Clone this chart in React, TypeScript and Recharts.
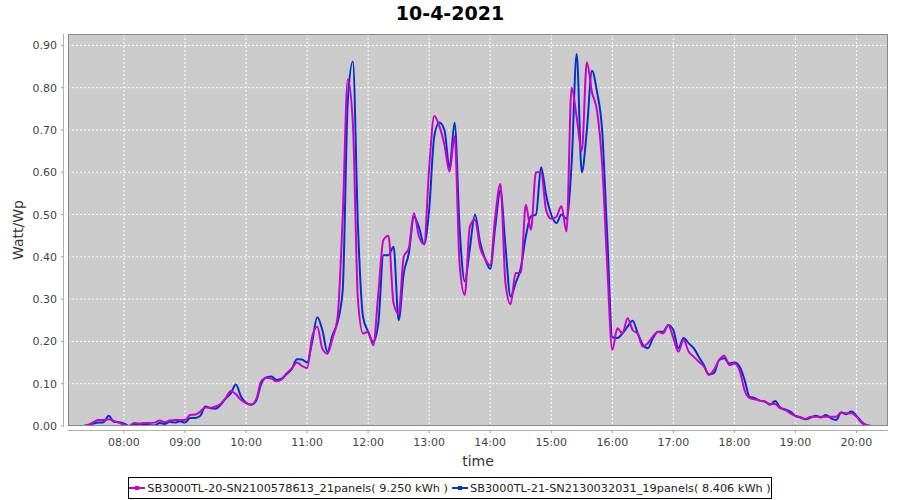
import React from 'react';
import { LineChart, Line, XAxis, YAxis, CartesianGrid } from 'recharts';

const times = [
  '07:20', '07:25', '07:30', '07:35', '07:40', '07:45', '07:50', '07:55',
  '08:00', '08:05', '08:10', '08:15', '08:20', '08:25', '08:30', '08:35', '08:40', '08:45', '08:50', '08:55',
  '09:00', '09:05', '09:10', '09:15', '09:20', '09:25', '09:30', '09:35', '09:40', '09:45', '09:50', '09:55',
  '10:00', '10:05', '10:10', '10:15', '10:20', '10:25', '10:30', '10:35', '10:40', '10:45', '10:50', '10:55',
  '11:00', '11:05', '11:10', '11:15', '11:20', '11:25', '11:30', '11:35', '11:40', '11:45', '11:50', '11:55',
  '12:00', '12:05', '12:10', '12:15', '12:20', '12:25', '12:30', '12:35', '12:40', '12:45', '12:50', '12:55',
  '13:00', '13:05', '13:10', '13:15', '13:20', '13:25', '13:30', '13:35', '13:40', '13:45', '13:50', '13:55',
  '14:00', '14:05', '14:10', '14:15', '14:20', '14:25', '14:30', '14:35', '14:40', '14:45', '14:50', '14:55',
  '15:00', '15:05', '15:10', '15:15', '15:20', '15:25', '15:30', '15:35', '15:40', '15:45', '15:50', '15:55',
  '16:00', '16:05', '16:10', '16:15', '16:20', '16:25', '16:30', '16:35', '16:40', '16:45', '16:50', '16:55',
  '17:00', '17:05', '17:10', '17:15', '17:20', '17:25', '17:30', '17:35', '17:40', '17:45', '17:50', '17:55',
  '18:00', '18:05', '18:10', '18:15', '18:20', '18:25', '18:30', '18:35', '18:40', '18:45', '18:50', '18:55',
  '19:00', '19:05', '19:10', '19:15', '19:20', '19:25', '19:30', '19:35', '19:40', '19:45', '19:50', '19:55',
  '20:00', '20:05', '20:10', '20:15',
];

// SB3000TL-20 (magenta)
const sb20 = [
  0.000, 0.003, 0.009, 0.014, 0.014, 0.016, 0.012, 0.008,
  0.003, 0.000, 0.007, 0.006, 0.007, 0.007, 0.008, 0.013, 0.009, 0.013, 0.014, 0.014,
  0.014, 0.026, 0.027, 0.034, 0.044, 0.043, 0.046, 0.052, 0.066, 0.083, 0.075, 0.062,
  0.054, 0.051, 0.063, 0.106, 0.114, 0.112, 0.106, 0.110, 0.125, 0.136, 0.150, 0.142,
  0.137, 0.211, 0.235, 0.183, 0.171, 0.207, 0.258, 0.495, 0.820, 0.716, 0.298, 0.219,
  0.223, 0.191, 0.313, 0.440, 0.450, 0.290, 0.265, 0.400, 0.420, 0.503, 0.448, 0.430,
  0.610, 0.733, 0.709, 0.665, 0.602, 0.685, 0.380, 0.310, 0.472, 0.488, 0.423, 0.395,
  0.380, 0.496, 0.572, 0.338, 0.288, 0.362, 0.362, 0.523, 0.464, 0.600, 0.600, 0.510,
  0.490, 0.495, 0.520, 0.460, 0.800, 0.730, 0.650, 0.860, 0.790, 0.745, 0.620, 0.380,
  0.180, 0.231, 0.219, 0.255, 0.227, 0.218, 0.188, 0.196, 0.212, 0.223, 0.219, 0.239,
  0.208, 0.176, 0.204, 0.176, 0.164, 0.152, 0.141, 0.121, 0.133, 0.156, 0.166, 0.144,
  0.148, 0.133, 0.085, 0.066, 0.063, 0.060, 0.058, 0.052, 0.052, 0.042, 0.038, 0.030,
  0.024, 0.021, 0.017, 0.022, 0.022, 0.022, 0.022, 0.022, 0.022, 0.032, 0.030, 0.030,
  0.022, 0.008, 0.002, 0.000,
];

// SB3000TL-21 (blue)
const sb21 = [
  0.000, 0.002, 0.006, 0.008, 0.009, 0.024, 0.010, 0.009,
  0.006, 0.000, 0.005, 0.002, 0.003, 0.002, 0.001, 0.007, 0.005, 0.010, 0.008, 0.011,
  0.008, 0.019, 0.019, 0.024, 0.046, 0.042, 0.041, 0.050, 0.065, 0.077, 0.098, 0.070,
  0.055, 0.050, 0.060, 0.100, 0.115, 0.117, 0.109, 0.112, 0.123, 0.135, 0.158, 0.157,
  0.150, 0.199, 0.257, 0.227, 0.175, 0.215, 0.246, 0.321, 0.768, 0.862, 0.472, 0.258,
  0.223, 0.199, 0.242, 0.404, 0.404, 0.424, 0.250, 0.361, 0.408, 0.495, 0.470, 0.430,
  0.512, 0.685, 0.718, 0.700, 0.612, 0.717, 0.464, 0.342, 0.420, 0.500, 0.435, 0.395,
  0.372, 0.472, 0.557, 0.425, 0.306, 0.338, 0.373, 0.448, 0.496, 0.500, 0.612, 0.545,
  0.500, 0.480, 0.500, 0.490, 0.620, 0.880, 0.600, 0.700, 0.840, 0.790, 0.700, 0.450,
  0.210, 0.208, 0.219, 0.235, 0.249, 0.219, 0.192, 0.184, 0.208, 0.223, 0.223, 0.239,
  0.227, 0.184, 0.208, 0.196, 0.184, 0.164, 0.144, 0.122, 0.125, 0.156, 0.160, 0.148,
  0.150, 0.141, 0.109, 0.069, 0.066, 0.060, 0.058, 0.050, 0.059, 0.044, 0.039, 0.034,
  0.024, 0.020, 0.016, 0.020, 0.024, 0.020, 0.026, 0.018, 0.014, 0.032, 0.028, 0.034,
  0.024, 0.010, 0.002, 0.000,
];

const hourTicks = ['08:00', '09:00', '10:00', '11:00', '12:00', '13:00', '14:00', '15:00', '16:00', '17:00', '18:00', '19:00', '20:00'];
const yTicks = [0, 0.05, 0.1, 0.15, 0.2, 0.25, 0.3, 0.35, 0.4, 0.45, 0.5, 0.55, 0.6, 0.65, 0.7, 0.75, 0.8, 0.85, 0.9];

const seriesNames = [
  'SB3000TL-20-SN2100578613_21panels( 9.250 kWh )',
  'SB3000TL-21-SN2130032031_19panels( 8.406 kWh )',
];
const seriesColors = ['#cc00cc', '#0033cc'];

const FONT = '"DejaVu Sans", Tahoma, sans-serif';

const toMin = (s: string) => {
  const [h, m] = s.split(':').map(Number);
  return h * 60 + m;
};
const fmtTime = (v: number) => {
  const h = Math.floor(v / 60);
  const m = v % 60;
  return `${String(h).padStart(2, '0')}:${String(m).padStart(2, '0')}`;
};

const data = times.map((t, i) => ({ t: toMin(t), a: sb20[i], b: sb21[i] }));

const XTick = (props: any) => {
  const { x, y, payload } = props;
  return (
    <g>
      <line x1={x} x2={x} y1={y + 4} y2={y + 7} stroke="#999" />
      <text x={x} y={y + 20} textAnchor="middle" fontSize={11} fill="#444" fontFamily={FONT}>
        {fmtTime(payload.value)}
      </text>
    </g>
  );
};

const YTick = (props: any) => {
  const { x, y, payload } = props;
  return (
    <g>
      <line x1={x - 7} x2={x - 4} y1={y} y2={y} stroke="#999" />
      <text x={x - 11} y={y + 4} textAnchor="end" fontSize={11} fill="#444" fontFamily={FONT}>
        {Number(payload.value).toFixed(2)}
      </text>
    </g>
  );
};

const LegendIcon = ({ color }: { color: string }) => (
  <svg width={16} height={8} style={{ marginRight: 2 }}>
    <line x1={0} x2={16} y1={4} y2={4} stroke={color} strokeWidth={2} />
    <rect x={6} y={2} width={4} height={4} fill={color} />
  </svg>
);

export default function App() {
  return (
    <div style={{ position: 'absolute', left: 0, top: 0, width: 900, height: 500, background: '#fff' }}>
      <div
        style={{
          position: 'absolute', left: 0, top: 2, width: 900, textAlign: 'center',
          fontFamily: FONT, fontWeight: 'bold', fontSize: 19, color: '#000',
        }}
      >
        10-4-2021
      </div>
      <LineChart width={900} height={500} data={data} margin={{ top: 34, right: 12, bottom: 30, left: 0 }}>
        <CartesianGrid stroke="#ffffff" strokeDasharray="2 2" fill="#cbcbcb" fillOpacity={1} />
        <XAxis
          dataKey="t"
          type="number"
          domain={[425, 1231]}
          ticks={hourTicks.map(toMin)}
          allowDataOverflow
          height={44}
          axisLine={false}
          tickLine={false}
          tickSize={0}
          tickMargin={0}
          tick={<XTick />}
          label={{ value: 'time', position: 'insideBottom', offset: 4, fill: '#333', fontSize: 14, fontFamily: FONT }}
        />
        <YAxis
          type="number"
          domain={[0, 0.927]}
          ticks={yTicks}
          allowDataOverflow
          width={68}
          axisLine={false}
          tickLine={false}
          tickSize={0}
          tickMargin={0}
          tick={<YTick />}
          label={{
            value: 'Watt/Wp', angle: -90, position: 'insideLeft', offset: 18,
            fill: '#333', fontSize: 14, fontFamily: FONT, style: { textAnchor: 'middle' },
          }}
        />
        <Line type="monotone" dataKey="b" stroke={seriesColors[1]} strokeWidth={2} dot={false} isAnimationActive={false} />
        <Line type="monotone" dataKey="a" stroke={seriesColors[0]} strokeWidth={2} dot={false} isAnimationActive={false} />
      </LineChart>
      {/* plot outline and offset axis lines */}
      <div style={{ position: 'absolute', left: 68, top: 34, width: 820, height: 392, border: '1px solid #888', boxSizing: 'border-box', pointerEvents: 'none' }} />
      <div style={{ position: 'absolute', left: 63, top: 34, width: 1, height: 392, background: '#b0b0b0' }} />
      <div style={{ position: 'absolute', left: 68, top: 430, width: 820, height: 1, background: '#b0b0b0' }} />
      <div
        style={{
          position: 'absolute', left: 128, top: 477, width: 644, height: 22, boxSizing: 'border-box',
          border: '1px solid #000', background: '#fff', display: 'flex', alignItems: 'center', justifyContent: 'center',
          fontFamily: FONT, fontSize: 11.3, color: '#222', whiteSpace: 'nowrap',
        }}
      >
        <LegendIcon color={seriesColors[0]} />
        <span style={{ marginRight: 4 }}>{seriesNames[0]}</span>
        <LegendIcon color={seriesColors[1]} />
        <span>{seriesNames[1]}</span>
      </div>
    </div>
  );
}
